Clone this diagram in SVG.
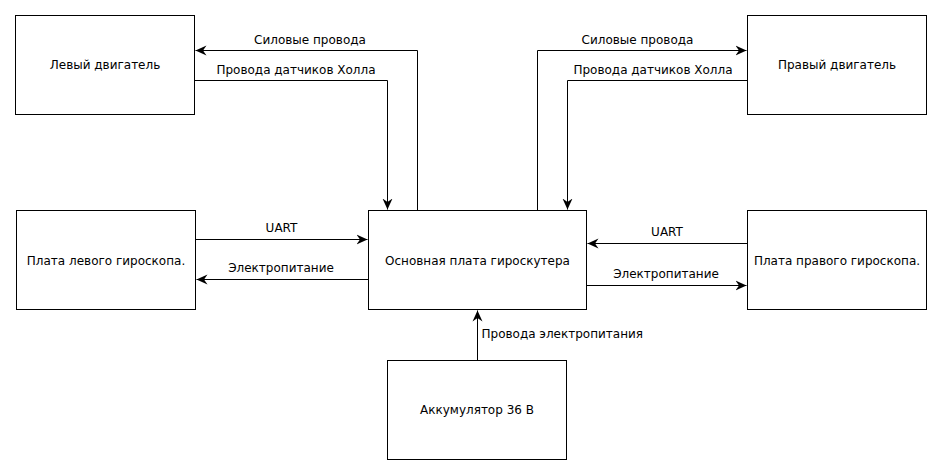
<svg xmlns="http://www.w3.org/2000/svg" width="942" height="475" viewBox="0 0 942 475">
<style>
.box{fill:#fff;stroke:#000;stroke-width:1}
.t{font-family:"DejaVu Sans",sans-serif;font-size:12px;fill:#000;text-anchor:middle}
.l{font-family:"DejaVu Sans",sans-serif;font-size:12px;fill:#000}
.c{fill:none;stroke:#000;stroke-width:1}
</style>
<defs>
<marker id="arr" markerUnits="userSpaceOnUse" viewBox="-11 -6 12 12" refX="0" refY="0" markerWidth="12" markerHeight="12" orient="auto">
<path d="M0,0 L-11,-5 L-7.5,0 L-11,5 Z" fill="#000"/>
</marker>
</defs>
<rect width="942" height="475" fill="#fff"/>
<g id="connectors">
<path class="c" d="M417.5,210.5 V50.5 H195.5" marker-end="url(#arr)"/>
<path class="c" d="M194.5,80.5 H387.5 V209.5" marker-end="url(#arr)"/>
<path class="c" d="M537.5,210.5 V50.5 H746.5" marker-end="url(#arr)"/>
<path class="c" d="M747.5,80.5 H567.5 V209.5" marker-end="url(#arr)"/>
<path class="c" d="M195.5,239.5 H367.5" marker-end="url(#arr)"/>
<path class="c" d="M368.5,279.5 H196.5" marker-end="url(#arr)"/>
<path class="c" d="M747.5,243.5 H587.5" marker-end="url(#arr)"/>
<path class="c" d="M586.5,285.5 H746.5" marker-end="url(#arr)"/>
<path class="c" d="M477.5,360.5 V310.5" marker-end="url(#arr)"/>
<text class="t" x="310" y="44">Силовые провода</text>
<text class="t" x="296" y="73.5">Провода датчиков Холла</text>
<text class="t" x="637.5" y="44">Силовые провода</text>
<text class="t" x="653" y="73.5">Провода датчиков Холла</text>
<text class="t" x="281.5" y="232">UART</text>
<text class="t" x="281" y="272">Электропитание</text>
<text class="t" x="667" y="236">UART</text>
<text class="t" x="666" y="277.5">Электропитание</text>
<text class="l" x="481.5" y="337.5">Провода электропитания</text>
</g>
<g id="left-motor"><rect class="box" x="15.5" y="15.5" width="179" height="99"/><text class="t" x="105" y="69">Левый двигатель</text></g>
<g id="right-motor"><rect class="box" x="747.5" y="15.5" width="179" height="99"/><text class="t" x="837" y="69">Правый двигатель</text></g>
<g id="left-gyro"><rect class="box" x="16.5" y="210.5" width="179" height="99"/><text class="t" x="106" y="264.5">Плата левого гироскопа.</text></g>
<g id="main-board"><rect class="box" x="368.5" y="210.5" width="218" height="99"/><text class="t" x="477.5" y="264.5">Основная плата гироскутера</text></g>
<g id="right-gyro"><rect class="box" x="747.5" y="210.5" width="179" height="99"/><text class="t" x="837" y="264.5">Плата правого гироскопа.</text></g>
<g id="battery"><rect class="box" x="387.5" y="360.5" width="179" height="99"/><text class="t" x="477" y="414">Аккумулятор 36 В</text></g>
</svg>
